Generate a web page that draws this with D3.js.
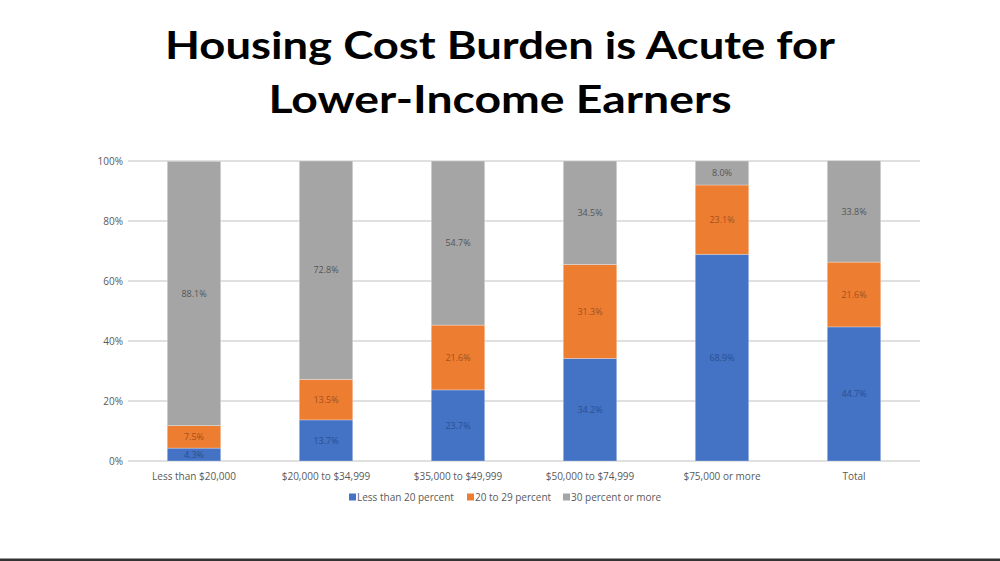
<!DOCTYPE html>
<html>
<head>
<meta charset="utf-8">
<script src="https://cdn.jsdelivr.net/npm/d3@7"></script>
<style>
  html, body { margin: 0; padding: 0; background: #fff; }
  svg { display: block; }
</style>
</head>
<body>
<div id="chart"></div>
<script>
// chart data
var titleLines = ["Housing Cost Burden is Acute for", "Lower-Income Earners"];
var categories = ["Less than $20,000", "$20,000 to $34,999", "$35,000 to $49,999",
                  "$50,000 to $74,999", "$75,000 or more", "Total"];
var seriesNames = ["Less than 20 percent", "20 to 29 percent", "30 percent or more"];
var lessThan20 = [4.3, 13.7, 23.7, 34.2, 68.9, 44.7];
var from20to29 = [7.5, 13.5, 21.6, 31.3, 23.1, 21.6];
var over30 = [88.1, 72.8, 54.7, 34.5, 8.0, 33.8];
var yTicks = [0, 20, 40, 60, 80, 100];

var colors = ["#4472c4", "#ed7d31", "#a5a5a5"];
var labelColors = ["#2d4f8e", "#a4501c", "#555555"];

var svgWidth = 1000;
var svgHeight = 561;

var margin = { top: 161, right: 80, bottom: 100, left: 128 };
var width = svgWidth - margin.left - margin.right;
var height = svgHeight - margin.top - margin.bottom;

var svg = d3.select("#chart")
  .append("svg")
  .attr("width", svgWidth)
  .attr("height", svgHeight);

// title
svg.selectAll(".title")
  .data(titleLines)
  .enter()
  .append("text")
  .attr("class", "title")
  .attr("x", svgWidth / 2)
  .attr("y", (d, i) => 59 + i * 54)
  .attr("text-anchor", "middle")
  .attr("font-family", "Lato, 'Open Sans', sans-serif")
  .attr("font-weight", "bold")
  .attr("font-size", 38)
  .attr("fill", "#000")
  .attr("textLength", (d, i) => i === 0 ? 670 : 463)
  .attr("lengthAdjust", "spacingAndGlyphs")
  .text(d => d);

var chartGroup = svg.append("g")
  .attr("transform", `translate(${margin.left}, ${margin.top})`);

// build rows for stacking
var rows = categories.map(function(c, i) {
  return { cat: c, s0: lessThan20[i], s1: from20to29[i], s2: over30[i] };
});
var stack = d3.stack().keys(["s0", "s1", "s2"]);
var stacked = stack(rows);

var xScale = d3.scaleBand()
  .domain(categories)
  .range([0, width])
  .paddingInner(0.595)
  .paddingOuter(0.2975);

var yScale = d3.scaleLinear()
  .domain([0, 100])
  .range([height, 0]);

// gridlines
chartGroup.append("g")
  .selectAll("line")
  .data(yTicks)
  .enter()
  .append("line")
  .attr("x1", 0)
  .attr("x2", width)
  .attr("y1", d => yScale(d))
  .attr("y2", d => yScale(d))
  .attr("stroke", "#d6d6d6")
  .attr("stroke-width", 1.5);

// y axis labels
var leftAxis = d3.axisLeft(yScale)
  .tickValues(yTicks)
  .tickSize(0)
  .tickPadding(5)
  .tickFormat(d => d + "%");

var yAxis = chartGroup.append("g").call(leftAxis);
yAxis.select(".domain").remove();
yAxis.selectAll("text")
  .attr("font-family", "'Open Sans', sans-serif")
  .attr("font-size", 10)
  .attr("fill", "#595959");

// x axis labels
var bottomAxis = d3.axisBottom(xScale)
  .tickSize(0)
  .tickPadding(12);

var xAxis = chartGroup.append("g")
  .attr("transform", `translate(0, ${height})`)
  .call(bottomAxis);
xAxis.select(".domain").remove();
xAxis.selectAll("text")
  .attr("font-family", "'Open Sans', sans-serif")
  .attr("font-size", 10)
  .attr("fill", "#595959");

// bars
var layers = chartGroup.selectAll(".layer")
  .data(stacked)
  .enter()
  .append("g")
  .attr("class", "layer")
  .attr("fill", (d, i) => colors[i]);

layers.selectAll("rect")
  .data(d => d)
  .enter()
  .append("rect")
  .attr("x", d => xScale(d.data.cat))
  .attr("y", d => yScale(d[1]))
  .attr("width", xScale.bandwidth())
  .attr("height", d => yScale(d[0]) - yScale(d[1]))
  .attr("stroke", "#ffffff")
  .attr("stroke-opacity", 0.35)
  .attr("stroke-width", 0.8);

// data labels
stacked.forEach(function(layer, li) {
  chartGroup.append("g")
    .selectAll("text")
    .data(layer)
    .enter()
    .append("text")
    .attr("x", d => xScale(d.data.cat) + xScale.bandwidth() / 2)
    .attr("y", d => yScale((d[0] + d[1]) / 2))
    .attr("dy", "0.35em")
    .attr("text-anchor", "middle")
    .attr("font-family", "'Open Sans', sans-serif")
    .attr("font-size", 9)
    .attr("fill", labelColors[li])
    .text(d => (d[1] - d[0]).toFixed(1) + "%");
});

// legend
var legendX = [349, 467, 563];
var legend = svg.append("g")
  .selectAll("g")
  .data(seriesNames)
  .enter()
  .append("g")
  .attr("transform", (d, i) => `translate(${legendX[i]}, 497)`);

legend.append("rect")
  .attr("x", 0)
  .attr("y", -3.5)
  .attr("width", 7)
  .attr("height", 7)
  .attr("fill", (d, i) => colors[i]);

legend.append("text")
  .attr("x", 8)
  .attr("y", 0)
  .attr("dy", "0.35em")
  .attr("font-family", "'Open Sans', sans-serif")
  .attr("font-size", 10)
  .attr("fill", "#595959")
  .text(d => d);

// bottom rule
svg.append("rect")
  .attr("x", 0)
  .attr("y", 558)
  .attr("width", svgWidth)
  .attr("height", 1)
  .attr("fill", "#9a9a9a");
svg.append("rect")
  .attr("x", 0)
  .attr("y", 559)
  .attr("width", svgWidth)
  .attr("height", 2)
  .attr("fill", "#333333");
</script>
</body>
</html>
